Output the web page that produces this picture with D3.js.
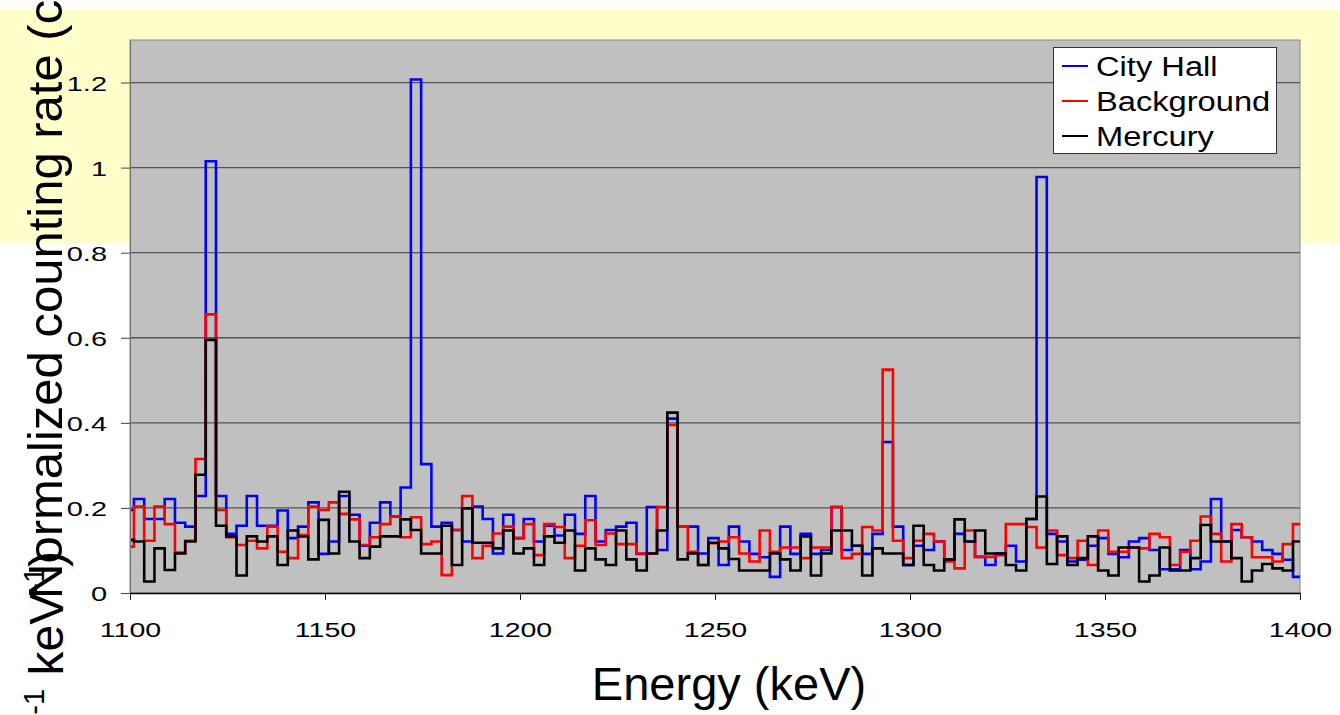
<!DOCTYPE html>
<html>
<head>
<meta charset="utf-8">
<script src="https://cdn.jsdelivr.net/npm/d3@7"></script>
<style>
  html, body { margin: 0; padding: 0; background: #ffffff; }
  svg { display: block; font-family: "Liberation Sans", Arial, Helvetica, sans-serif; }
</style>
</head>
<body>
<svg id="chart" width="1340" height="715"></svg>
<script>
// Energy calibration of the spectrum channels (keV)
const energyStart = 1098.38;   // lower edge of the first channel
const channelWidth = 2.63;     // width of one channel

// Normalized counting rate per channel
const cityHall = [
  0.195, 0.221, 0.174, 0.174, 0.221, 0.165, 0.156, 0.228, 1.015, 0.228,
  0.139, 0.158, 0.228, 0.158, 0.158, 0.194, 0.129, 0.156, 0.213, 0.092,
  0.121, 0.228, 0.184, 0.111, 0.165, 0.213, 0.180, 0.248, 1.207,
  0.303, 0.156, 0.165, 0.148, 0.121, 0.203, 0.174, 0.093, 0.184, 0.129,
  0.174, 0.121, 0.158, 0.135, 0.184, 0.139, 0.228, 0.121, 0.148, 0.156,
  0.165, 0.092, 0.202, 0.101, 0.410, 0.156, 0.156, 0.093, 0.129, 0.066,
  0.156, 0.121, 0.092, 0.084, 0.038, 0.156, 0.092, 0.139, 0.092, 0.101,
  0.202, 0.101, 0.111, 0.092, 0.139, 0.355, 0.156, 0.066, 0.111, 0.101,
  0.121, 0.078, 0.139, 0.121, 0.085, 0.066, 0.093, 0.111, 0.074,
  0.174, 0.978, 0.139, 0.121, 0.074, 0.078, 0.111, 0.129, 0.092, 0.084,
  0.121, 0.129, 0.101, 0.056, 0.056, 0.101, 0.056, 0.074, 0.221, 0.121,
  0.148, 0.131, 0.121, 0.101, 0.092, 0.078, 0.038
];
const background = [
  0.109, 0.203, 0.123, 0.203, 0.162, 0.095, 0.123, 0.315, 0.655, 0.195,
  0.131, 0.113, 0.123, 0.105, 0.156, 0.097, 0.082, 0.136, 0.203, 0.195,
  0.213, 0.186, 0.173, 0.113, 0.131, 0.162, 0.180, 0.131, 0.178,
  0.115, 0.121, 0.042, 0.148, 0.228, 0.082, 0.111, 0.140, 0.156, 0.129,
  0.162, 0.089, 0.162, 0.155, 0.082, 0.111, 0.171, 0.113, 0.140, 0.115,
  0.115, 0.093, 0.093, 0.202, 0.395, 0.156, 0.097, 0.066, 0.117, 0.121,
  0.131, 0.093, 0.074, 0.147, 0.097, 0.107, 0.107, 0.082, 0.107, 0.107,
  0.202, 0.082, 0.092, 0.155, 0.147, 0.525, 0.123, 0.082, 0.123, 0.139,
  0.121, 0.074, 0.058, 0.147, 0.085, 0.085, 0.089, 0.162, 0.162,
  0.155, 0.107, 0.147, 0.089, 0.082, 0.123, 0.066, 0.147, 0.097, 0.097,
  0.107, 0.105, 0.139, 0.131, 0.066, 0.097, 0.123, 0.180, 0.139, 0.074,
  0.162, 0.131, 0.084, 0.084, 0.074, 0.115, 0.162
];
const mercury = [
  0.125, 0.121, 0.027, 0.105, 0.054, 0.093, 0.121, 0.278, 0.595, 0.158,
  0.133, 0.041, 0.133, 0.121, 0.133, 0.066, 0.147, 0.133, 0.079, 0.172,
  0.093, 0.238, 0.121, 0.082, 0.109, 0.133, 0.133, 0.173, 0.148,
  0.093, 0.093, 0.158, 0.066, 0.199, 0.118, 0.118, 0.105, 0.147, 0.093,
  0.105, 0.066, 0.133, 0.118, 0.147, 0.053, 0.105, 0.079, 0.066, 0.147,
  0.079, 0.053, 0.093, 0.147, 0.424, 0.079, 0.093, 0.066, 0.118, 0.105,
  0.080, 0.053, 0.053, 0.053, 0.093, 0.079, 0.053, 0.133, 0.041, 0.093,
  0.147, 0.147, 0.111, 0.041, 0.105, 0.093, 0.093, 0.066, 0.158, 0.066,
  0.053, 0.079, 0.173, 0.121, 0.147, 0.093, 0.093, 0.066, 0.053,
  0.174, 0.227, 0.068, 0.133, 0.066, 0.082, 0.133, 0.053, 0.041, 0.107,
  0.107, 0.027, 0.041, 0.107, 0.053, 0.053, 0.082, 0.160, 0.121, 0.121,
  0.082, 0.027, 0.053, 0.068, 0.058, 0.053, 0.121
];

const seriesNames = ["City Hall", "Background", "Mercury"];
const seriesColors = ["#0000ff", "#ff0000", "#000000"];
const xTicks = [1100, 1150, 1200, 1250, 1300, 1350, 1400];
const yTicks = [0, 0.2, 0.4, 0.6, 0.8, 1, 1.2];
const xTitle = "Energy (keV)";

const svg = d3.select("#chart");
const plot = { left: 130, right: 1300, top: 40, bottom: 593 };

const x = d3.scaleLinear().domain([1100, 1400]).range([plot.left, plot.right]);
const y = d3.scaleLinear().domain([0, 1.3]).range([plot.bottom, plot.top]);

// pale backdrop band behind the upper part of the figure
svg.append("rect")
  .attr("x", 0).attr("y", 10).attr("width", 1340).attr("height", 233)
  .attr("fill", "#ffffcc");

// plot area
svg.append("rect")
  .attr("x", plot.left).attr("y", plot.top)
  .attr("width", plot.right - plot.left).attr("height", plot.bottom - plot.top)
  .attr("fill", "#c0c0c0")
  .attr("stroke", "#8a8a8a").attr("stroke-width", 1);

// horizontal gridlines
svg.append("g")
  .selectAll("line")
  .data(yTicks.filter(d => d > 0))
  .join("line")
  .attr("x1", plot.left).attr("x2", plot.right)
  .attr("y1", d => y(d)).attr("y2", d => y(d))
  .attr("stroke", "#555555").attr("stroke-width", 1.3);

// clip the step lines to the plot area
svg.append("defs").append("clipPath").attr("id", "plotClip")
  .append("rect")
  .attr("x", plot.left).attr("y", plot.top - 2)
  .attr("width", plot.right - plot.left).attr("height", plot.bottom - plot.top + 2);

// channel edges and step-histogram paths
const edges = d3.range(cityHall.length + 1).map(i => energyStart + i * channelWidth);
const stepLine = d3.line()
  .x(d => x(d[0]))
  .y(d => y(d[1]))
  .curve(d3.curveStepAfter);

function stepPoints(vals) {
  const pts = vals.map((v, i) => [edges[i], v]);
  pts.push([edges[vals.length], vals[vals.length - 1]]);
  return pts;
}

const seriesData = [cityHall, background, mercury];
const lines = svg.append("g").attr("clip-path", "url(#plotClip)");
seriesData.forEach((vals, k) => {
  lines.append("path")
    .attr("d", stepLine(stepPoints(vals)))
    .attr("fill", "none")
    .attr("stroke", seriesColors[k])
    .attr("stroke-width", 2.6)
    .attr("stroke-linejoin", "miter");
});

// y axis
const tickFmt = d => String(+d.toFixed(1));
const yAxis = svg.append("g")
  .attr("transform", `translate(${plot.left},0)`)
  .call(d3.axisLeft(y).tickValues(yTicks).tickFormat(tickFmt).tickSize(9).tickSizeOuter(0));
yAxis.select(".domain").attr("stroke", "#707070");
yAxis.selectAll(".tick line").attr("stroke", "#444444");
yAxis.selectAll(".tick text")
  .attr("font-size", 21)
  .attr("fill", "#000")
  .attr("font-family", "Liberation Sans, Arial, sans-serif")
  .attr("x", -23 / 1.38)
  .attr("dy", "0.36em")
  .attr("transform", "scale(1.38,1)");

// x axis
const xAxis = svg.append("g")
  .attr("transform", `translate(0,${plot.bottom})`)
  .call(d3.axisBottom(x).tickValues(xTicks).tickFormat(d3.format("d")).tickSize(7).tickSizeOuter(0));
xAxis.select(".domain").attr("stroke", "#000").attr("stroke-width", 1.3);
xAxis.selectAll(".tick line").attr("stroke", "#222");
xAxis.selectAll(".tick text")
  .attr("font-size", 21)
  .attr("fill", "#000")
  .attr("font-family", "Liberation Sans, Arial, sans-serif")
  .attr("y", 29)
  .attr("transform", "scale(1.36,1)");

// axis titles
svg.append("text")
  .attr("x", 729).attr("y", 700)
  .attr("text-anchor", "middle")
  .attr("font-size", 47)
  .attr("fill", "#000")
  .text(xTitle);

svg.append("text")
  .attr("transform", "translate(62,599) rotate(-90)")
  .attr("text-anchor", "start")
  .attr("font-size", 49)
  .attr("fill", "#000")
  .text("Normalized counting rate (counts");

const y2 = svg.append("text")
  .attr("transform", "translate(63,551) rotate(-90)")
  .attr("text-anchor", "end")
  .attr("font-size", 48)
  .attr("fill", "#000");
y2.append("tspan").text("s");
y2.append("tspan").attr("font-size", 29).attr("dy", -19).text("-1");
y2.append("tspan").attr("dy", 19).text(" keV");
y2.append("tspan").attr("font-size", 29).attr("dy", -19).text("-1");
y2.append("tspan").attr("dy", 19).text(")");

// legend
const legend = svg.append("g");
legend.append("rect")
  .attr("x", 1053.5).attr("y", 47.5).attr("width", 223).attr("height", 106)
  .attr("fill", "#ffffff").attr("stroke", "#333333").attr("stroke-width", 1);
seriesNames.forEach((name, k) => {
  const ry = 66 + k * 35;
  legend.append("line")
    .attr("x1", 1062).attr("x2", 1088).attr("y1", ry).attr("y2", ry)
    .attr("stroke", seriesColors[k]).attr("stroke-width", 2);
  legend.append("text")
    .attr("transform", `translate(1096,${ry + 10}) scale(1.21,1)`)
    .attr("font-size", 27)
    .attr("fill", "#000")
    .text(name);
});
</script>
</body>
</html>
